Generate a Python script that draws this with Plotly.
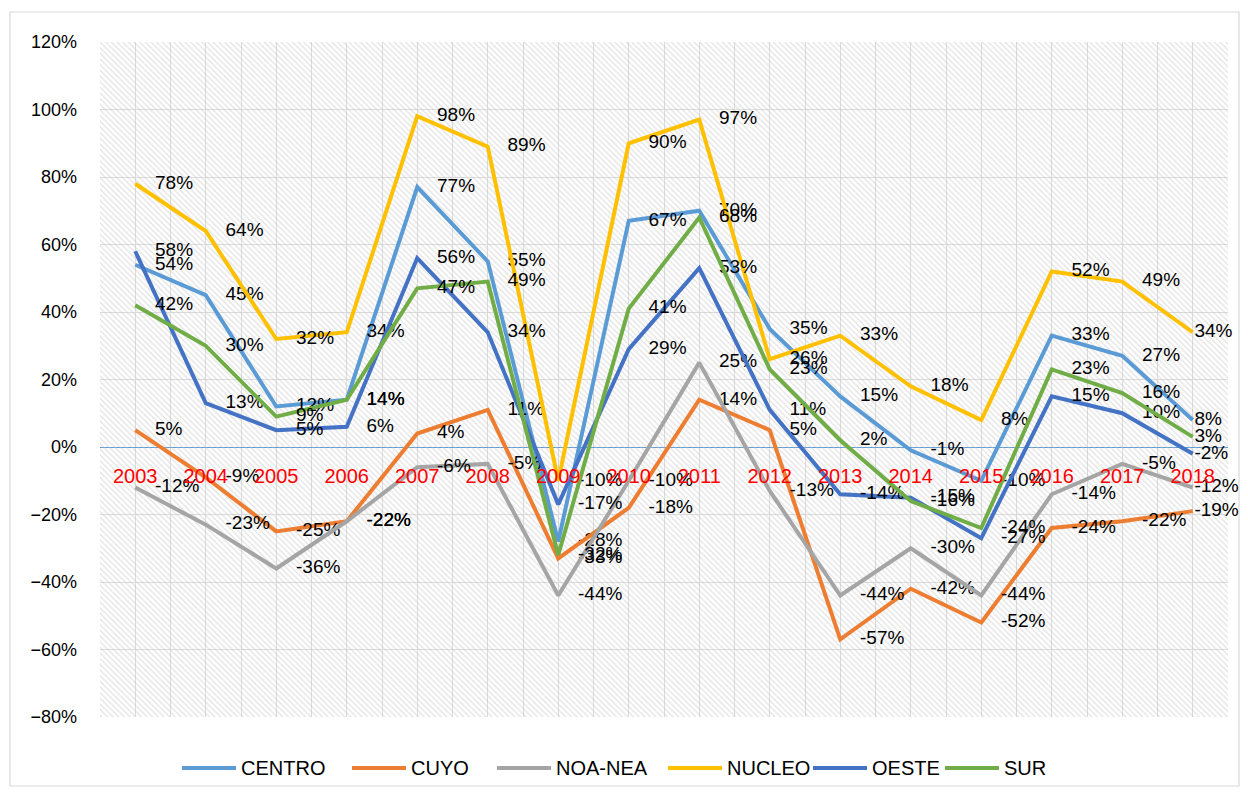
import plotly.graph_objects as go

years = [2003, 2004, 2005, 2006, 2007, 2008, 2009, 2010, 2011, 2012, 2013, 2014, 2015, 2016, 2017, 2018]
year_labels = [str(y) for y in years]

centro  = [54, 45, 12, 14, 77, 55, -28, 67, 70, 35, 15, -1, -10, 33, 27, 8]
cuyo    = [5, -9, -25, -22, 4, 11, -33, -18, 14, 5, -57, -42, -52, -24, -22, -19]
noa_nea = [-12, -23, -36, -22, -6, -5, -44, -10, 25, -13, -44, -30, -44, -14, -5, -12]
nucleo  = [78, 64, 32, 34, 98, 89, -10, 90, 97, 26, 33, 18, 8, 52, 49, 34]
oeste   = [58, 13, 5, 6, 56, 34, -17, 29, 53, 11, -14, -15, -27, 15, 10, -2]
sur     = [42, 30, 9, 14, 47, 49, -32, 41, 68, 23, 2, -16, -24, 23, 16, 3]

series_names = ["CENTRO", "CUYO", "NOA-NEA", "NUCLEO", "OESTE", "SUR"]
series_values = [centro, cuyo, noa_nea, nucleo, oeste, sur]
series_colors = ["#5B9BD5", "#ED7D31", "#A5A5A5", "#FFC000", "#4472C4", "#70AD47"]

y_min, y_max = -80, 120
FONT = "Liberation Sans, Arial, sans-serif"

# plot area in page pixels (the page body adds an 8px offset)
PL, PR, PT, PB = 100, 1228, 42, 717
OFF = 8
PW, PH = PR - PL, PB - PT
FIG_W, FIG_H = 1248 - 2 * OFF, 799 - 2 * OFF - 4

# invisible marker sizes push the value labels right of each point;
# the last point gets a smaller push so its label stays inside the page
label_push = [30] * (len(years) - 1) + [1]

fig = go.Figure()

# hatched plot-area background
fig.add_trace(go.Bar(
    x=years, y=[y_max - y_min] * len(years), base=y_min, width=1,
    marker=dict(color="rgba(0,0,0,0)", line=dict(width=0),
                pattern=dict(shape="\\", size=4, solidity=0.3,
                             fgcolor="#C4C4C4", bgcolor="rgba(0,0,0,0)")),
    showlegend=False, hoverinfo="skip",
))

for name, vals, color in zip(series_names, series_values, series_colors):
    fig.add_trace(go.Scatter(
        x=years, y=vals, name=name, mode="lines+markers+text",
        line=dict(color=color, width=4),
        marker=dict(size=label_push, color="rgba(0,0,0,0)", line=dict(width=0)),
        text=[f"{v}%" for v in vals], textposition="middle right",
        textfont=dict(family=FONT, size=19, color="#000000"),
        cliponaxis=False, showlegend=False,
    ))

# legend drawn as shapes + annotations (Excel-style long line samples)
legend_x = [182, 352, 497, 668, 813, 945]
legend_y = 768
for name, color, lx in zip(series_names, series_colors, legend_x):
    fig.add_shape(type="line", xref="paper", yref="paper",
                  x0=(lx - PL) / PW, x1=(lx + 54 - PL) / PW,
                  y0=(PB - legend_y) / PH, y1=(PB - legend_y) / PH,
                  line=dict(color=color, width=4))
    fig.add_annotation(xref="paper", yref="paper", x=(lx + 57 - PL) / PW,
                       y=(PB - legend_y) / PH, xanchor="left", yanchor="middle",
                       text=name, showarrow=False,
                       font=dict(family=FONT, size=20, color="#000000"))

fig.update_layout(
    width=FIG_W, height=FIG_H,
    margin=dict(l=PL - OFF, r=FIG_W + OFF - PR, t=PT - OFF, b=FIG_H + OFF - PB),
    paper_bgcolor="white", plot_bgcolor="white",
    font=dict(family=FONT, size=18, color="#000000"),
    barmode="overlay", bargap=0,
    showlegend=False,
)

fig.update_xaxes(
    range=[years[0] - 0.5, years[-1] + 0.5],
    tickvals=years, ticktext=year_labels,
    tickfont=dict(family=FONT, size=20, color="#FF0000"),
    showgrid=True, gridcolor="#DCDCDC", gridwidth=1.3,
    minor=dict(dtick=1, tick0=years[0] - 0.5, showgrid=True, gridcolor="#DCDCDC", gridwidth=1.3),
    zeroline=False, showline=False, ticks="",
    anchor="free", position=(0 - y_min) / (y_max - y_min),
    ticklabelstandoff=15,
)
fig.update_yaxes(
    range=[y_min, y_max], dtick=20, ticksuffix="%",
    tickfont=dict(family=FONT, size=18, color="#000000"),
    showgrid=True, gridcolor="#DCDCDC", gridwidth=1.3,
    zeroline=True, zerolinecolor="#5B9BD5", zerolinewidth=1.2,
    showline=False, ticks="", ticklabelstandoff=22,
)

fig.add_shape(type="rect", xref="paper", yref="paper",
              x0=(10 - PL) / PW, x1=(FIG_W + OFF - 1 - PL) / PW,
              y0=(PB - (FIG_H + OFF - 1)) / PH, y1=(PB - 12) / PH,
              line=dict(color="#D9D9D9", width=1.2), fillcolor="rgba(0,0,0,0)", layer="below")

fig.write_html("out.html")
